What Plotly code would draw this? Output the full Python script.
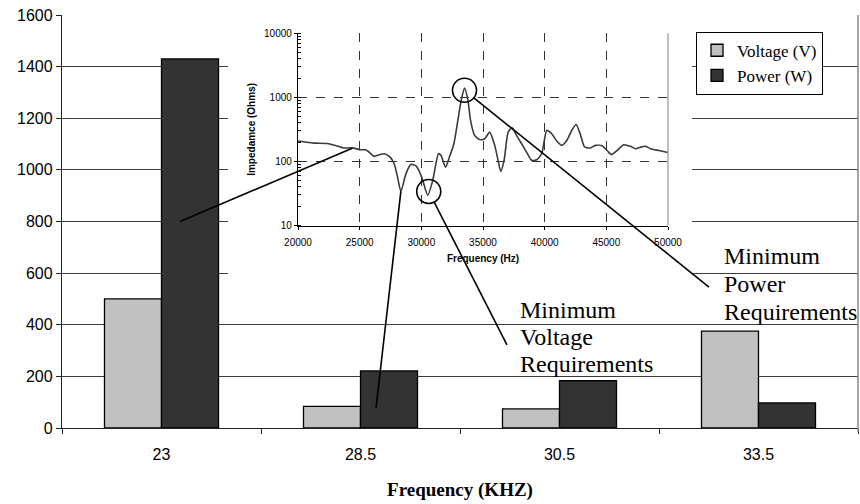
import math
import plotly.graph_objects as go

# ---------------- data ----------------
categories = ["23", "28.5", "30.5", "33.5"]
voltage_v = [500, 84, 74, 375]
power_w = [1430, 221, 183, 97]

inset_freq_hz = [20000, 21277, 22360, 23180, 23720, 24400, 25080, 25490, 25760, 26170,
                 26580, 27000, 27470, 27800, 28070, 28340, 28750, 29160, 29570, 30030,
                 30520, 30920, 31390, 31600, 31960, 32280, 32640, 32960, 33230, 33500,
                 33780, 33990, 34320, 34730, 35140, 35540, 35950, 36220, 36440, 36710,
                 37040, 37360, 37720, 38130, 38530, 38940, 39350, 39760, 40170, 40570,
                 40980, 41390, 41790, 42200, 42550, 42880, 43240, 43700, 44110, 44650,
                 45060, 45410, 45870, 46410, 46960, 47360, 47770, 48180, 48590, 49270,
                 50000]
inset_impedance_ohm = [208, 193, 190, 174, 162, 163, 152, 152, 140, 120,
                       127, 132, 117, 92, 57, 34, 64, 90, 85, 57,
                       29.5, 50, 132, 124, 81, 117, 189, 437, 895, 1400,
                       895, 437, 255, 220, 226, 287, 178, 104, 70, 104,
                       287, 336, 255, 189, 140, 104, 106, 132, 305, 270,
                       208, 178, 212, 305, 378, 270, 168, 162, 178, 176,
                       148, 128, 148, 182, 172, 158, 167, 172, 158, 148,
                       138]

# callout anchor points (data coordinates)
link_bar23 = (0.093, 800)          # (category index, value) on main axes
link_curve23 = (24400, 160)        # (Hz, Ohm) on inset
link_bar28 = (1.078, 77)
link_curve28 = (28340, 34)
circle_voltage = (30600, 34)
circle_power = (33500, 1290)
label_voltage_end = (1.736, 322)
label_power_end = (2.751, 546)
voltage_label_lines = ["Minimum", "Voltage", "Requirements"]
power_label_lines = ["Minimum", "Power", "Requirements"]

# ---------------- layout geometry ----------------
W, H = 860, 504
MX = [62 / W, 858 / W]
MY = [(H - 428) / H, (H - 15) / H]
BX = [228 / W, 692 / W]
BY = [(H - 280) / H, (H - 4) / H]
IX = [298 / W, 668 / W]
IY = [(H - 225.5) / H, (H - 33.3) / H]
YMAX = 1600
NCAT = len(categories)


def main_to_px(idx, val):
    px = (MX[0] + (idx + 0.5) / NCAT * (MX[1] - MX[0])) * W
    py = (1 - (MY[0] + val / YMAX * (MY[1] - MY[0]))) * H
    return px, py


def inset_to_px(f, z):
    px = (IX[0] + (f - 20000) / 30000 * (IX[1] - IX[0])) * W
    py = (1 - (IY[0] + (math.log10(z) - 1) / 3 * (IY[1] - IY[0]))) * H
    return px, py


def px_to_paper(p):
    return p[0] / W, 1 - p[1] / H


def line_shape(p0, p1):
    a = px_to_paper(p0)
    b = px_to_paper(p1)
    return dict(type="line", xref="paper", yref="paper", x0=a[0], y0=a[1], x1=b[0], y1=b[1],
                line=dict(color="black", width=1.6), layer="above")


R = 12


def edge_point(center_px, target_px):
    dx = target_px[0] - center_px[0]
    dy = target_px[1] - center_px[1]
    d = math.hypot(dx, dy)
    return center_px[0] + dx / d * R, center_px[1] + dy / d * R


fig = go.Figure()

fig.add_trace(go.Bar(x=categories, y=voltage_v, name="Voltage (V)",
                     marker=dict(color="#C0C0C0", line=dict(color="black", width=1.3)),
                     xaxis="x", yaxis="y"))
fig.add_trace(go.Bar(x=categories, y=power_w, name="Power (W)",
                     marker=dict(color="#333333", line=dict(color="black", width=1.3)),
                     xaxis="x", yaxis="y"))

# white panel behind inset (covers main gridlines)
fig.add_trace(go.Scatter(x=[0, 1, 1, 0, 0], y=[0, 0, 1, 1, 0], fill="toself",
                         fillcolor="white", line=dict(width=0, color="white"),
                         mode="lines", hoverinfo="skip", showlegend=False,
                         xaxis="x2", yaxis="y2"))

# inset impedance curve
fig.add_trace(go.Scatter(x=inset_freq_hz, y=inset_impedance_ohm, mode="lines",
                         line=dict(color="#3a3a3a", width=1.6, shape="spline", smoothing=0.6),
                         showlegend=False, xaxis="x3", yaxis="y3"))

tick_font = dict(family="Liberation Sans, Arial", size=16, color="black")
small_font = dict(family="Liberation Sans, Arial", size=10, color="black")

fig.update_layout(
    width=W, height=H,
    margin=dict(l=0, r=0, t=0, b=0, pad=0, autoexpand=False),
    paper_bgcolor="white", plot_bgcolor="white",
    barmode="group", bargap=0.427, bargroupgap=0,
    showlegend=True,
    legend=dict(x=696 / W, y=(H - 31.7) / H, xanchor="left", yanchor="top",
                bordercolor="black", borderwidth=1, bgcolor="white",
                font=dict(family="Liberation Serif, Times New Roman", size=17, color="black"),
                itemwidth=30, tracegroupgap=4),
    xaxis=dict(domain=MX, type="category", range=[-0.5, NCAT - 0.5], automargin=False,
               showline=True, linecolor="#222", linewidth=1.3,
               ticks="outside", ticklen=5, tickcolor="#222", tickson="boundaries",
               showgrid=False, tickfont=tick_font, ticklabelstandoff=12,
               title=dict(text="<b>Frequency (KHZ)</b>", standoff=20,
                          font=dict(family="Liberation Serif, Times New Roman", size=19, color="black")),
               anchor="y"),
    yaxis=dict(domain=MY, range=[0, YMAX], dtick=200, automargin=False,
               showline=True, linecolor="#222", linewidth=1.3,
               ticks="outside", ticklen=5, tickcolor="#222",
               showgrid=True, gridcolor="#3c3c3c", gridwidth=1,
               zeroline=False, tickfont=tick_font, anchor="x"),
    xaxis2=dict(domain=BX, range=[0, 1], visible=False, anchor="y2", automargin=False),
    yaxis2=dict(domain=BY, range=[0, 1], visible=False, anchor="x2", automargin=False),
    xaxis3=dict(domain=IX, range=[20000, 50000], dtick=5000, tick0=20000, tickformat="d",
                showline=True, linecolor="black", linewidth=1.3, automargin=False,
                ticks="outside", ticklen=3, tickcolor="black",
                showgrid=True, gridcolor="#333", griddash="dash", gridwidth=1,
                zeroline=False, tickfont=small_font, ticklabelstandoff=4,
                title=dict(text="<b>Frequency (Hz)</b>", standoff=8, font=small_font),
                anchor="y3"),
    yaxis3=dict(domain=IY, type="log", range=[1, 4], dtick=1, tickformat="d",
                showline=True, linecolor="black", linewidth=1.3, automargin=False,
                ticks="outside", ticklen=3, tickcolor="black",
                minor=dict(ticks="inside", ticklen=3, tickcolor="black", showgrid=False),
                showgrid=True, gridcolor="#333", griddash="dash", gridwidth=1,
                zeroline=False, tickfont=small_font,
                title=dict(text="<b>Impedamce (Ohms)</b>", standoff=6, font=small_font),
                anchor="x3"),
)

shapes = []
# right borders (gray) of main plot and inset
shapes.append(dict(type="line", xref="paper", yref="paper", x0=MX[1], x1=MX[1],
                   y0=MY[0] - 4 / H, y1=MY[1], line=dict(color="#888", width=1.5), layer="above"))
shapes.append(dict(type="line", xref="paper", yref="paper", x0=IX[1], x1=IX[1],
                   y0=IY[0], y1=IY[1], line=dict(color="#999", width=1.3), layer="above"))

# callout lines
shapes.append(line_shape(main_to_px(*link_bar23), inset_to_px(*link_curve23)))
shapes.append(line_shape(main_to_px(*link_bar28), inset_to_px(*link_curve28)))
cv = inset_to_px(*circle_voltage)
ev = main_to_px(*label_voltage_end)
shapes.append(line_shape(edge_point(cv, ev), ev))
cp = inset_to_px(*circle_power)
ep = main_to_px(*label_power_end)
shapes.append(line_shape(edge_point(cp, ep), ep))

# circles (round in pixel space)
for c in (cv, cp):
    a = px_to_paper((c[0] - R, c[1] + R))
    b = px_to_paper((c[0] + R, c[1] - R))
    shapes.append(dict(type="circle", xref="paper", yref="paper",
                       x0=a[0], y0=a[1], x1=b[0], y1=b[1],
                       line=dict(color="black", width=1.6), layer="above"))
fig.update_layout(shapes=shapes)

label_font = dict(family="Liberation Serif, Times New Roman", size=24, color="black")
ann = []
for i, t in enumerate(voltage_label_lines):
    ann.append(dict(x=1.79, y=457 - i * 105, xref="x", yref="y", text=t, showarrow=False,
                    xanchor="left", yanchor="middle", font=label_font))
for i, t in enumerate(power_label_lines):
    ann.append(dict(x=2.817, y=666 - i * 108, xref="x", yref="y", text=t, showarrow=False,
                    xanchor="left", yanchor="middle", font=label_font))
fig.update_layout(annotations=ann)

fig.write_html("out.html")
